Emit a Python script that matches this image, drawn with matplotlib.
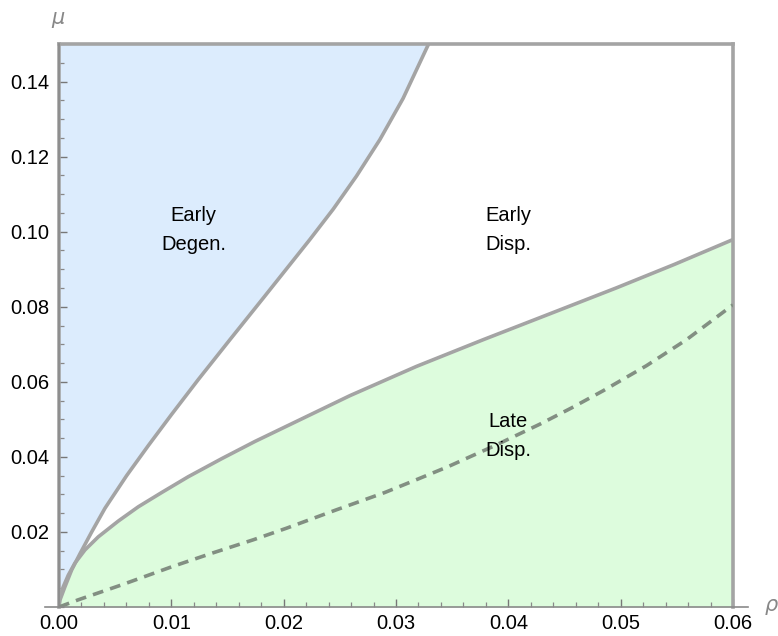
import matplotlib
matplotlib.use("Agg")
import matplotlib.pyplot as plt
from matplotlib.ticker import MultipleLocator, FixedLocator

plt.rcParams['font.family'] = ['Liberation Sans', 'DejaVu Sans']

# Upper boundary (Early Degen. / Early Disp.)
upper_rho = [0.0, 0.00009, 0.00053, 0.00113, 0.00187, 0.00291, 0.00409, 0.00602,
             0.00795, 0.01002, 0.0124, 0.01521, 0.01818, 0.02233, 0.02441,
             0.02648, 0.02856, 0.03063, 0.0329]
upper_mu = [0.0, 0.0019, 0.0054, 0.0099, 0.0142, 0.0200, 0.0263, 0.0350,
            0.0430, 0.0513, 0.0606, 0.0712, 0.0823, 0.0979, 0.1060,
            0.1148, 0.1245, 0.1355, 0.150]

# Lower boundary (Early Disp. / Late Disp.)
lower_rho = [0.0, 0.00003, 0.00038, 0.00083, 0.00142, 0.00231, 0.0035, 0.00528,
             0.00706, 0.00914, 0.0115, 0.01447, 0.01744, 0.02589, 0.03182,
             0.03775, 0.04368, 0.0496, 0.0548, 0.06]
lower_mu = [0.0, 0.0023, 0.0054, 0.0085, 0.0117, 0.0152, 0.0187, 0.0229,
            0.0267, 0.0305, 0.0347, 0.0395, 0.0441, 0.0563, 0.0641,
            0.0712, 0.0781, 0.0850, 0.0913, 0.0979]

# Dashed curve
dash_rho = [0.0, 0.0017, 0.00558, 0.01002, 0.01358, 0.01729, 0.02026, 0.0247,
            0.0290, 0.0318, 0.03464, 0.0388, 0.0428, 0.0456, 0.04843, 0.0523,
            0.05585, 0.06]
dash_mu = [0.0, 0.0019, 0.0059, 0.0107, 0.0143, 0.0179, 0.0210, 0.0259,
           0.0305, 0.0339, 0.0374, 0.0430, 0.0487, 0.0530, 0.0576, 0.0643,
           0.0712, 0.0805]

region_labels = ["Early\nDegen.", "Early\nDisp.", "Late\nDisp."]
label_rho = [0.012, 0.040, 0.040]
label_mu = [0.1005, 0.1005, 0.0456]

x_ticks = [0.00, 0.01, 0.02, 0.03, 0.04, 0.05, 0.06]
y_ticks = [0.02, 0.04, 0.06, 0.08, 0.10, 0.12, 0.14]
xmax, ymax = 0.06, 0.15

blue = '#dcecfd'
green = '#ddfcdd'
edge = '#a4a4a4'

fig = plt.figure(figsize=(7.78, 6.36), dpi=100)
ax = fig.add_axes([59/778, 29/636, 674/778, 563/636])
ax.set_xlim(0, xmax)
ax.set_ylim(0, ymax)

# regions
ax.fill_betweenx(upper_mu, 0, upper_rho, color=blue, lw=0, zorder=1)
ax.fill_between(lower_rho, 0, lower_mu, color=green, lw=0, zorder=1)

# boundaries
ax.plot(upper_rho, upper_mu, color=edge, lw=2.6, zorder=3,
        solid_joinstyle='round', solid_capstyle='butt')
ax.plot(lower_rho, lower_mu, color=edge, lw=2.6, zorder=3,
        solid_joinstyle='round', solid_capstyle='butt')
ax.axhline(ymax, color=edge, lw=2.6, zorder=3, clip_on=False)
ax.axvline(xmax, color=edge, lw=2.6, zorder=3, clip_on=False)
ax.axvline(0, color=edge, lw=2.6, zorder=3, clip_on=False)

# dashed line
ax.plot(dash_rho, dash_mu, color='#828f82', lw=2.6, dashes=(3.0, 2.0),
        dash_capstyle='butt', solid_joinstyle='round', zorder=4)

for t, xr, ym in zip(region_labels, label_rho, label_mu):
    ax.text(xr, ym, t, ha='center', va='center', fontsize=14.5, color='black',
            linespacing=1.65, zorder=5)

# axes styling
for s in ['top', 'right', 'bottom']:
    ax.spines[s].set_visible(False)
ax.spines['left'].set_color('#8a8a8a')
ax.spines['left'].set_linewidth(1.2)
ax.spines['left'].set_zorder(6)
# x axis line extending a bit past the plot range
ax.plot([-14/674, 1 + 15/674], [0, 0], transform=ax.transAxes, color='#8a8a8a',
        lw=1.2, clip_on=False, zorder=6)

ax.xaxis.set_major_locator(FixedLocator(x_ticks))
ax.xaxis.set_minor_locator(MultipleLocator(0.002))
ax.yaxis.set_major_locator(FixedLocator(y_ticks))
ax.yaxis.set_minor_locator(MultipleLocator(0.005))
ax.set_xticklabels([f"{v:.2f}" for v in x_ticks])
ax.set_yticklabels([f"{v:.2f}" for v in y_ticks])
ax.tick_params(which='major', direction='in', length=6, width=1.0, color='#777777',
               labelsize=14.5, labelcolor='black', pad=7)
ax.tick_params(which='minor', direction='in', length=3.5, width=0.9, color='#888888')
ax.tick_params(axis='x', which='both', bottom=True, top=False)
ax.tick_params(axis='y', which='both', left=True, right=False)
ax.tick_params(axis='x', which='major', pad=5)

ax.text(-0.001, 1 + 24/563, r'$\mu$', transform=ax.transAxes, ha='center', va='center',
        fontsize=15, color='#888888')
ax.text(1 + 39/674, 0.0, r'$\rho$', transform=ax.transAxes, ha='center', va='center',
        fontsize=15, color='#888888')

fig.savefig('out.png', dpi=100)
